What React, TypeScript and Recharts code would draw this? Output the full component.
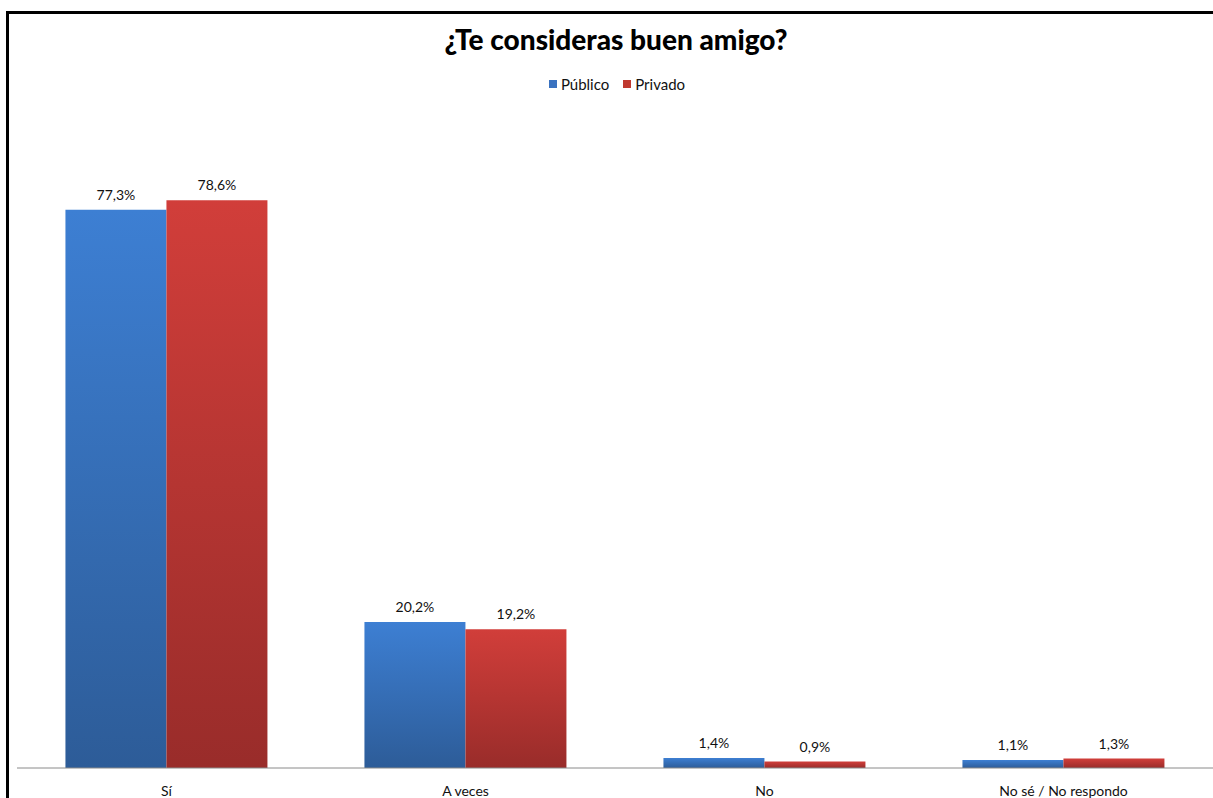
import { BarChart, Bar, XAxis, YAxis, LabelList } from "recharts"

const categories = ["Sí", "A veces", "No", "No sé / No respondo"]
const publico = [77.3, 20.2, 1.4, 1.1]
const privado = [78.6, 19.2, 0.9, 1.3]

const data = categories.map((name, i) => ({ name, publico: publico[i], privado: privado[i] }))

const fmt = (v: any) => Number(v).toFixed(1).replace(".", ",") + "%"

const font = "Lato, 'Open Sans', sans-serif"

function LegendBox() {
    const items = [
        { label: "Público", color: "#3a72c0" },
        { label: "Privado", color: "#c0392f" },
    ]
    return (
        <div style={{ position: "absolute", left: 0, top: 75, width: 1234, display: "flex", justifyContent: "center", gap: 14, fontFamily: font, fontSize: 15, color: "#111" }}>
            {items.map((it) => (
                <div key={it.label} style={{ display: "flex", alignItems: "center" }}>
                    <span style={{ width: 8, height: 8, background: it.color, marginRight: 4, display: "inline-block" }} />
                    {it.label}
                </div>
            ))}
        </div>
    )
}

export default function App() {
    return (
        <div style={{ position: "absolute", left: 0, top: 0, width: 1213, height: 798, background: "#fff", overflow: "hidden" }}>
            <div style={{ position: "absolute", left: 6, top: 11, width: 1300, height: 900, borderLeft: "3px solid #000", borderTop: "3px solid #000" }} />
            <div style={{ position: "absolute", left: 0, top: 22, width: 1232, textAlign: "center", fontFamily: font, fontWeight: 900, fontSize: 28, color: "#000" }}>
                ¿Te consideras buen amigo?
            </div>
            <LegendBox />
            <BarChart
                width={1213}
                height={798}
                data={data}
                margin={{ top: 118, right: 0, bottom: 0, left: 17 }}
                barCategoryGap="16.2%"
                barGap={0}
            >
                <defs>
                    <linearGradient id="gBlue" x1="0" y1="0" x2="0" y2="1">
                        <stop offset="0%" stopColor="#3d7fd3" />
                        <stop offset="100%" stopColor="#2d5c98" />
                    </linearGradient>
                    <linearGradient id="gRed" x1="0" y1="0" x2="0" y2="1">
                        <stop offset="0%" stopColor="#d13e3a" />
                        <stop offset="100%" stopColor="#992c2a" />
                    </linearGradient>
                </defs>
                <XAxis
                    dataKey="name"
                    height={30}
                    tickLine={false}
                    axisLine={{ stroke: "#8a8a8a" }}
                    tick={{ fontFamily: font, fontSize: 14, fill: "#111" }}
                    tickMargin={12}
                    interval={0}
                />
                <YAxis hide domain={[0, 90]} />
                <Bar dataKey="publico" name="Público" fill="url(#gBlue)" isAnimationActive={false}>
                    <LabelList dataKey="publico" position="top" offset={10} formatter={fmt} style={{ fontFamily: font, fontSize: 14, fill: "#111" }} />
                </Bar>
                <Bar dataKey="privado" name="Privado" fill="url(#gRed)" isAnimationActive={false}>
                    <LabelList dataKey="privado" position="top" offset={10} formatter={fmt} style={{ fontFamily: font, fontSize: 14, fill: "#111" }} />
                </Bar>
            </BarChart>
        </div>
    )
}
